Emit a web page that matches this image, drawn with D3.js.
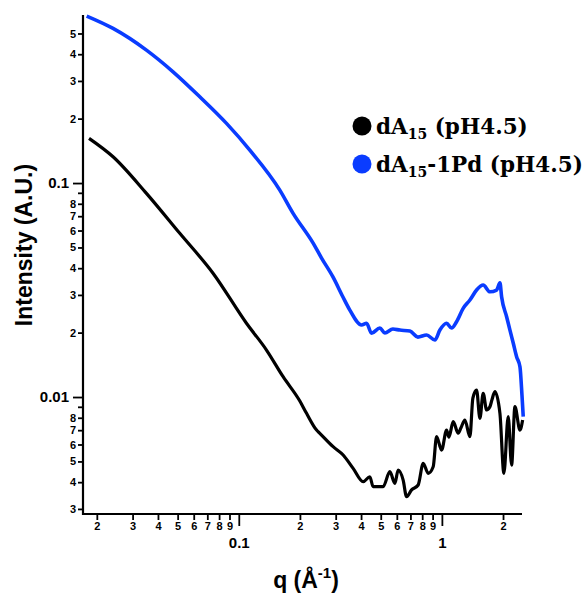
<!DOCTYPE html>
<html>
<head>
<meta charset="utf-8">
<script src="https://cdnjs.cloudflare.com/ajax/libs/d3/7.8.5/d3.min.js"></script>
<style>
  body { margin: 0; background: #fff; }
  svg text { font-family: "Liberation Sans", Arial, sans-serif; font-weight: bold; }
</style>
</head>
<body>
<svg id="chart" width="588" height="594"></svg>
<script>
// q (1/A) and intensity
var qBlue = [0.01783, 0.02404, 0.0351, 0.04747, 0.06425, 0.087, 0.1133, 0.1592, 0.1851, 0.2323,
  0.2556, 0.2904, 0.3253, 0.3522, 0.4022, 0.4257, 0.4505, 0.495, 0.5239, 0.5736,
  0.621, 0.6958, 0.7616, 0.8408, 0.9237, 0.9776, 1.055, 1.116, 1.181, 1.273,
  1.374, 1.482, 1.597, 1.724, 1.86, 1.931, 1.968, 2.083, 2.163, 2.245,
  2.333, 2.423, 2.479, 2.515];
var iBlue = [0.603, 0.528, 0.418, 0.331, 0.253, 0.19, 0.1426, 0.0927, 0.0722, 0.0524,
  0.0446, 0.0365, 0.02942, 0.02549, 0.0217, 0.02211, 0.01985, 0.02101, 0.01991, 0.02078,
  0.02055, 0.02033, 0.01906, 0.01949, 0.01846, 0.02055, 0.02211, 0.02101, 0.02249, 0.02597,
  0.0284, 0.03162, 0.03338, 0.03104, 0.03162, 0.0342, 0.02942, 0.02373, 0.02055, 0.01788,
  0.01543, 0.01385, 0.01022, 0.00809];

var qBlack = [0.01831, 0.02404, 0.0351, 0.05122, 0.07468, 0.1091, 0.1369, 0.1653, 0.1998, 0.2156,
  0.2415, 0.2506, 0.2914, 0.3265, 0.3656, 0.4096, 0.4418, 0.4587, 0.5138, 0.5544,
  0.5868, 0.6091, 0.6447, 0.67, 0.7091, 0.7643, 0.8091, 0.856, 0.906, 0.9417,
  0.9966, 1.055, 1.083, 1.137, 1.203, 1.240, 1.298, 1.374, 1.421, 1.482,
  1.539, 1.597, 1.661, 1.724, 1.763, 1.824, 1.931, 2.02, 2.121, 2.204,
  2.289, 2.423, 2.498];
var iBlack = [0.1618, 0.1327, 0.0895, 0.0582, 0.0379, 0.02211, 0.01658, 0.01244, 0.00958, 0.00839,
  0.00701, 0.00677, 0.00586, 0.00536, 0.00464, 0.00402, 0.00424, 0.00381, 0.00381, 0.00448,
  0.00395, 0.00456, 0.00409, 0.00342, 0.00368, 0.00388, 0.0049, 0.0044, 0.00472, 0.00653,
  0.00565, 0.00701, 0.0065, 0.00767, 0.00677, 0.00716, 0.00781, 0.00653, 0.00989, 0.01078,
  0.00795, 0.01041, 0.0087, 0.00901, 0.00968, 0.01059, 0.00839, 0.0044, 0.00809, 0.00481,
  0.00901, 0.00701, 0.00781];

var xTicks = [0.02, 0.03, 0.04, 0.05, 0.06, 0.07, 0.08, 0.09, 0.1,
  0.2, 0.3, 0.4, 0.5, 0.6, 0.7, 0.8, 0.9, 1, 2];
var yTicks = [0.003, 0.004, 0.005, 0.006, 0.007, 0.008, 0.009, 0.01,
  0.02, 0.03, 0.04, 0.05, 0.06, 0.07, 0.08, 0.09, 0.1, 0.2, 0.3, 0.4, 0.5];
var xMajor = [0.1, 1];
var yMajor = [0.01, 0.1];
var yUnlabeled = [0.009, 0.09];

var seriesNames = ["dA", "dA"];
var seriesSuffix = [" (pH4.5)", "-1Pd (pH4.5)"];
var seriesColors = ["#000000", "#0a3cff"];

var svg = d3.select("#chart");

var x = d3.scaleLog().domain([0.0171, 2.48]).range([83, 522]);
var y = d3.scaleLog().domain([0.00284, 0.61]).range([514, 15]);

function isMajor(list, v) {
	return list.some(m => Math.abs(m - v) < 1e-9);
}
function digit(v) {
	return Math.round(v / Math.pow(10, Math.floor(Math.log10(v) + 1e-9)));
}

// x axis
var gx = svg.append("g")
	.attr("transform", "translate(0,514)")
	.call(d3.axisBottom(x).tickValues(xTicks).tickSize(6).tickSizeOuter(0)
		.tickFormat(d => isMajor(xMajor, d) ? "" : digit(d)));
gx.select(".domain").attr("stroke-width", 2.2).attr("d", "M82,0H522");
gx.selectAll(".tick line").attr("stroke-width", 1.8)
	.attr("y2", d => isMajor(xMajor, d) ? 12 : 6);
gx.selectAll(".tick text").attr("y", 8).style("font-size", "11px").attr("fill", "#000");
gx.selectAll(".tick").filter(d => isMajor(xMajor, d))
	.append("text")
	.attr("y", 23).attr("dy", "0.71em")
	.attr("fill", "#000")
	.attr("text-anchor", "middle")
	.style("font-size", "15px")
	.text(d => d);

// y axis
var gy = svg.append("g")
	.attr("transform", "translate(83,0)")
	.call(d3.axisLeft(y).tickValues(yTicks).tickSize(5).tickSizeOuter(0)
		.tickFormat(d => (isMajor(yMajor, d) || isMajor(yUnlabeled, d)) ? "" : digit(d)));
gy.select(".domain").attr("stroke-width", 2.2).attr("d", "M0,15V515");
gy.selectAll(".tick line").attr("stroke-width", 1.8)
	.attr("x2", d => isMajor(yMajor, d) ? -10 : -5);
gy.selectAll(".tick text").attr("x", -7).style("font-size", "11px").attr("fill", "#000");
gy.selectAll(".tick").filter(d => isMajor(yMajor, d))
	.append("text")
	.attr("x", -14).attr("dy", "0.32em")
	.attr("fill", "#000")
	.attr("text-anchor", "end")
	.style("font-size", "15px")
	.text(d => d);

// axis titles
svg.append("text")
	.attr("transform", "translate(32,245) rotate(-90)")
	.attr("text-anchor", "middle")
	.style("font-size", "23px")
	.text("Intensity (A.U.)");

var xt = svg.append("text")
	.attr("x", 306).attr("y", 588)
	.attr("text-anchor", "middle")
	.style("font-size", "23px");
xt.append("tspan").text("q (Å");
xt.append("tspan").attr("dy", -10).style("font-size", "15px").text("-1");
xt.append("tspan").attr("dy", 10).text(")");

// curves
var line = d3.line()
	.curve(d3.curveMonotoneX)
	.x(d => x(d[0]))
	.y(d => y(d[1]));

var curves = [
	{ q: qBlack, i: iBlack, color: seriesColors[0], w: 3.2 },
	{ q: qBlue, i: iBlue, color: seriesColors[1], w: 3.6 }
];

curves.forEach(c => {
	svg.append("path")
		.datum(d3.zip(c.q, c.i))
		.attr("fill", "none")
		.attr("stroke", c.color)
		.attr("stroke-width", c.w)
		.attr("stroke-linejoin", "round")
		.attr("d", line);
});

// legend
var legend = svg.append("g").attr("transform", "translate(362,126)");
seriesNames.forEach((name, k) => {
	var row = legend.append("g").attr("transform", "translate(0," + (k * 38) + ")");
	row.append("circle").attr("r", 9.5).attr("fill", seriesColors[k]);
	var t = row.append("text")
		.attr("x", 14).attr("y", 8)
		.style("font-family", "'DejaVu Serif', 'Liberation Serif', serif")
		.style("font-size", "21.5px");
	t.append("tspan").text(name);
	t.append("tspan").attr("dy", 5).style("font-size", "14px").text("15");
	t.append("tspan").attr("dy", -5).text(seriesSuffix[k]);
});
</script>
</body>
</html>
